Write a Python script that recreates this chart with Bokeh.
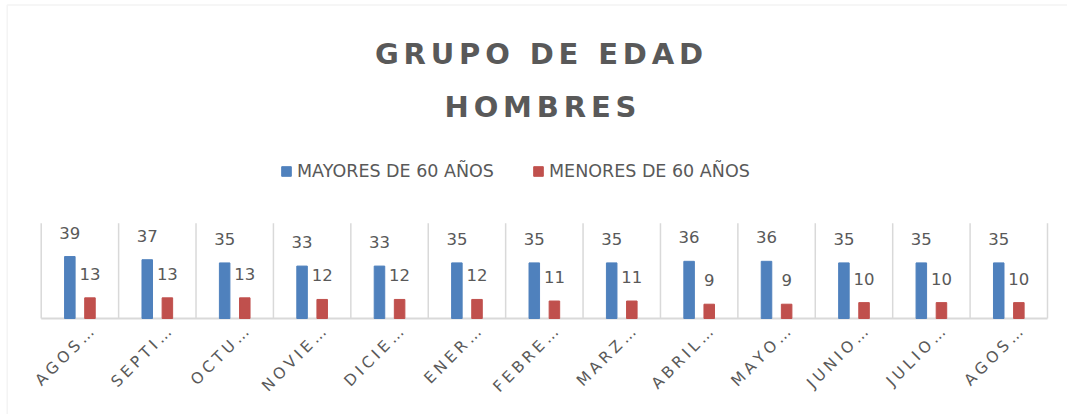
import numpy as np
from bokeh.plotting import figure
from bokeh.models import ColumnDataSource, Legend, LegendItem, Label, Range1d, BoxAnnotation
from bokeh.core.properties import value
from bokeh.embed import file_html
from bokeh.resources import INLINE

categories = ["AGOS…", "SEPTI…", "OCTU…", "NOVIE…", "DICIE…", "ENER…", "FEBRE…",
              "MARZ…", "ABRIL…", "MAYO…", "JUNIO…", "JULIO…", "AGOS…"]
mayores = [39, 37, 35, 33, 33, 35, 35, 35, 36, 36, 35, 35, 35]
menores = [13, 13, 13, 12, 12, 12, 11, 11, 9, 9, 10, 10, 10]
series_names = ["MAYORES DE 60 AÑOS", "MENORES DE 60 AÑOS"]
title_lines = ["GRUPO DE EDAD", "HOMBRES"]

BLUE = "#4F81BD"
RED = "#C0504D"
TXT = "#595959"
GRID = "#D9D9D9"
FONT = "DejaVu Sans"
AXIS_MAX = 60

# layout (pixels)
W, H = 1067, 414
PL, PR, PT, PB = 40.7, 1047.0, 222.7, 318.0


def spaced(s, sp="\u2006"):
    return sp.join(s)


n = len(categories)
centers = np.arange(n) + 0.5
OFF = 0.13
LBL_OFF = 0.15

kx = (PR - PL) / n
ky = (PB - PT) / AXIS_MAX

src = ColumnDataSource(dict(
    x1=centers - OFF, x2=centers + OFF, xl=centers + LBL_OFF,
    m=mayores, f=menores, z=[0] * n,
    lm=[str(v) for v in mayores], lf=[str(v) for v in menores],
    cat=[spaced(c, "\u2005") for c in categories],
))

p = figure(width=W, height=H,
           x_range=Range1d(-PL / kx, n + (W - PR) / kx),
           y_range=Range1d(-(H - PB) / ky, PB / ky),
           output_backend="svg", toolbar_location=None, title=None,
           min_border=0)
p.outline_line_color = None
p.background_fill_color = "white"
p.border_fill_color = "white"
p.grid.visible = False
p.axis.visible = False

# category separators and baseline
bounds = np.arange(n + 1)
p.segment(x0=bounds, y0=0, x1=bounds, y1=AXIS_MAX, line_color=GRID, line_width=1.5)
p.segment(x0=[0], y0=[0], x1=[n], y1=[0], line_color=GRID, line_width=2)

r1 = p.vbar(x="x1", top="m", width=0.136, source=src, fill_color=BLUE, line_color=BLUE)
r2 = p.vbar(x="x2", top="f", width=0.136, source=src, fill_color=RED, line_color=RED)

for xc, yc, lc in (("x1", "m", "lm"), ("x2", "f", "lf")):
    p.text(x=xc, y=yc, text=lc, source=src,
           text_align="center", text_baseline="middle", y_offset=-24,
           text_font=value(FONT), text_font_size="16.5px", text_color=TXT)

# category labels
p.text(x="xl", y="z", text="cat", source=src, angle=np.pi / 4,
       text_align="right", text_baseline="middle", y_offset=11,
       text_font=value(FONT), text_font_size="15.5px", text_color=TXT)

legend = Legend(items=[LegendItem(label=series_names[0], renderers=[r1]),
                       LegendItem(label=series_names[1], renderers=[r2])],
                orientation="horizontal", location=(280, 233),
                glyph_width=12, glyph_height=12, label_standoff=5, spacing=38,
                label_text_font=FONT, label_text_font_size="17.5px", label_text_color=TXT,
                border_line_color=None, background_fill_alpha=0, margin=0, padding=0)
p.add_layout(legend, "center")

for txt, lx, ly in ((title_lines[0], 538.5, H - 53), (title_lines[1], 540, H - 106)):
    p.add_layout(Label(x=lx, y=ly, x_units="screen", y_units="screen", text=spaced(txt),
                       text_align="center", text_baseline="middle", text_font=FONT,
                       text_font_size="29px", text_font_style="bold", text_color=TXT))

# chart border (extends past the right and bottom edges)
p.add_layout(BoxAnnotation(left=6.7, right=W + 20, top=H - 4.5, bottom=-20,
                           left_units="screen", right_units="screen",
                           top_units="screen", bottom_units="screen",
                           fill_alpha=0, line_color=GRID, line_width=1.5))

open("out.html", "w").write(file_html(p, INLINE))
